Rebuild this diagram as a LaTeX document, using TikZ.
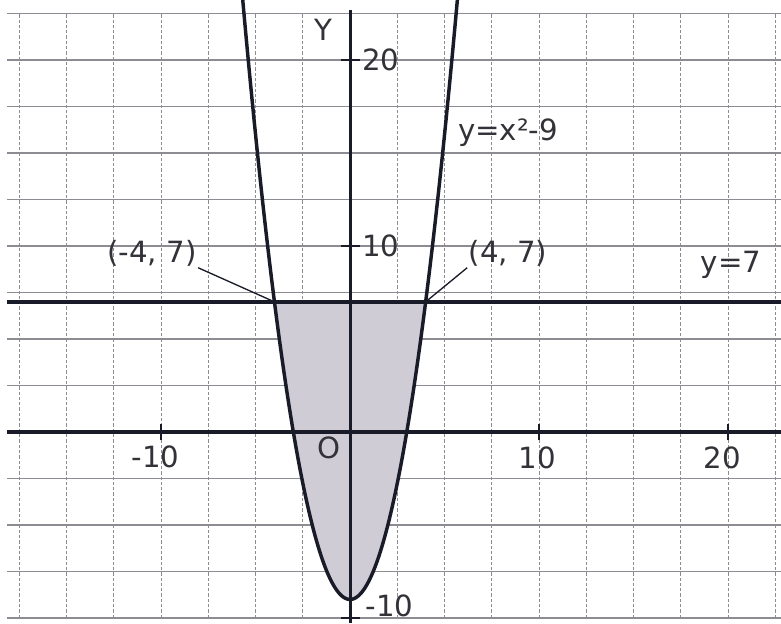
\documentclass[tikz,border=0pt]{standalone}
\usepackage{fontspec}
\setmainfont{DejaVu Sans}
\usetikzlibrary{calc}
\definecolor{figG}{RGB}{140,140,146}
\definecolor{figK}{RGB}{25,28,40}
\definecolor{figS}{RGB}{207,204,213}
\definecolor{figT}{RGB}{50,50,56}
\newcommand{\lblsize}{\fontsize{22}{26}\selectfont}

\begin{document}
\begin{tikzpicture}[x=0.5cm,y=0.492cm,lbl/.style={font=\lblsize,text=figT,inner sep=1pt}]
% y = x^2-9 and y = 7 meet at x=-4 and x=4; grid every 2.5
\useasboundingbox (-18.52,-10.27) rectangle (22.80,23.23);
\fill[white] (-18.52,-10.27) rectangle (22.80,23.23);
\foreach \y in {-10,-7.5,...,22.5} \draw[figG,line width=0.9pt] (-18.15,\y)--(22.8,\y);
\foreach \x in {-17.5,-15,...,22.5} \draw[figG,line width=0.8pt,dash pattern=on 2.5pt off 1.5pt] (\x,-10)--(\x,22.5);
\fill[figS] plot[domain=-4:4,samples=80] (\x,{\x*\x-9}) -- cycle;
\draw[figK,line width=2.4pt] (-18.15,0)--(22.8,0);
\draw[figK,line width=2.2pt] (0,-10.27)--(0,22.7);
\draw[figK,line width=3pt] (-18.15,7)--(22.8,7);
\foreach \x in {-10,10,20} \draw[figK,line width=1.5pt] (\x,-0.45)--(\x,0.45);
\foreach \y in {-10,10,20} \draw[figK,line width=1.5pt] (-0.5,\y)--(0.5,\y);
\draw[figK,line width=2.6pt] plot[domain=-5.68:5.68,samples=120,smooth] (\x,{\x*\x-9});
\coordinate (Pl) at (-4,7);
\coordinate (Pr) at (4,7);
\node[lbl] (lblPl) at (-10.48,9.62) {(-4, 7)};
\node[lbl] (lblPr) at (8.36,9.62) {(4, 7)};
\draw[figK,line width=1pt,shorten >=1pt] (lblPl.south east)--(Pl);
\draw[figK,line width=1pt,shorten >=1pt] (lblPr.south west)--(Pr);
\node[lbl] (lblCurve) at (8.36,16.1) {y=x²-9};
\node[lbl] (lblLine) at (20.16,8.98) {y=7};
\node[lbl] (lblY) at (-1.43,21.6) {Y};
\node[lbl] (lblO) at (-1.1,-0.86) {O};
\node[lbl,anchor=west] (lblYb) at (0.55,20) {20};
\node[lbl,anchor=west] (lblYa) at (0.55,10) {10};
\node[lbl,anchor=west] (lblYm) at (0.75,-9.35) {-10};
\node[lbl] (lblXm) at (-10.3,-1.34) {-10};
\node[lbl] (lblXa) at (9.9,-1.4) {10};
\node[lbl] (lblXb) at (19.7,-1.4) {20};
\end{tikzpicture}
\end{document}
